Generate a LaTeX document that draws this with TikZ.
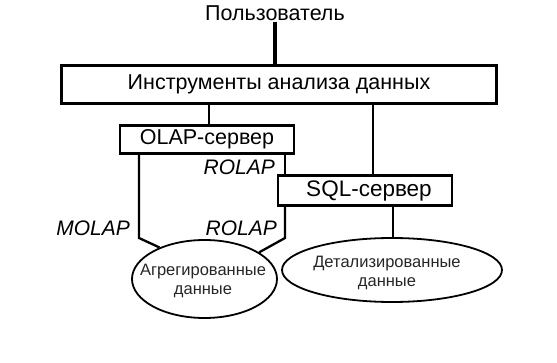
\documentclass[tikz,border=0pt]{standalone}
\usepackage{fontspec}
\setmainfont{Liberation Sans}
\usetikzlibrary{shapes.geometric}
\tikzset{
  boxnode/.style={draw, line width=2.2pt, inner sep=0pt, font=\fontsize{21.5}{24}\selectfont},
  ellnode/.style={draw, ellipse, line width=1.8pt, inner sep=0pt},
  elltext/.style={inner sep=0pt, align=center, text=black!85, font=\fontsize{16.5}{19}\selectfont},
  conn/.style={line width=2.3pt},
  lbl/.style={font=\fontsize{21}{24}\selectfont\itshape, inner sep=0pt}
}
\begin{document}
\begin{tikzpicture}[x=1pt,y=-1pt]
\useasboundingbox (0,0) rectangle (557,363);
\node[font=\fontsize{21.5}{24}\selectfont, inner sep=1pt] (user) at (275,13) {Пользователь};
\node[boxnode, minimum width=435pt, minimum height=38pt] (tools) at (279,84.5) {Инструменты анализа данных};
\node[boxnode, minimum width=174pt, minimum height=28pt] (olap) at (207,139.5) {OLAP-сервер};
\node[boxnode, minimum width=174pt, minimum height=30pt, font=\fontsize{22.5}{24}\selectfont] (sql) at (365,190.5) {\hspace{8pt}SQL-сервер};
\node[ellnode, minimum width=145pt, minimum height=78pt] (agg) at (204.5,279) {};
\node[elltext] (aggt) at (203,281) {Агрегированные\\данные};
\node[ellnode, minimum width=220pt, minimum height=64pt] (det) at (392,270) {};
\node[elltext] (dett) at (387,273) {Детализированные\\данные};
\node[lbl, anchor=east] (r1) at (275,167) {ROLAP};
\node[lbl, anchor=east] (m1) at (130,228) {MOLAP};
\node[lbl, anchor=east] (r2) at (277,228) {ROLAP};
\coordinate (xl) at (139,238);
\coordinate (xr) at (285,238);
\coordinate (xt) at (209,0);
\coordinate (xs) at (373,0);
\coordinate (xd) at (393,0);
\draw[line width=3.6pt] (user.south) -- (user.south |- tools.north);
\draw[conn] (tools.south -| xt) -- (olap.north -| xt);
\draw[conn] (tools.south -| xs) -- (sql.north -| xs);
\draw[conn] (olap.south -| xr) -- (sql.north -| xr);
\draw[conn] (olap.south -| xl) -- (xl) -- (agg.145);
\draw[conn] (sql.south -| xr) -- (xr) -- (agg.26);
\draw[conn] (sql.south -| xd) -- (det.north -| xd);
\end{tikzpicture}
\end{document}
